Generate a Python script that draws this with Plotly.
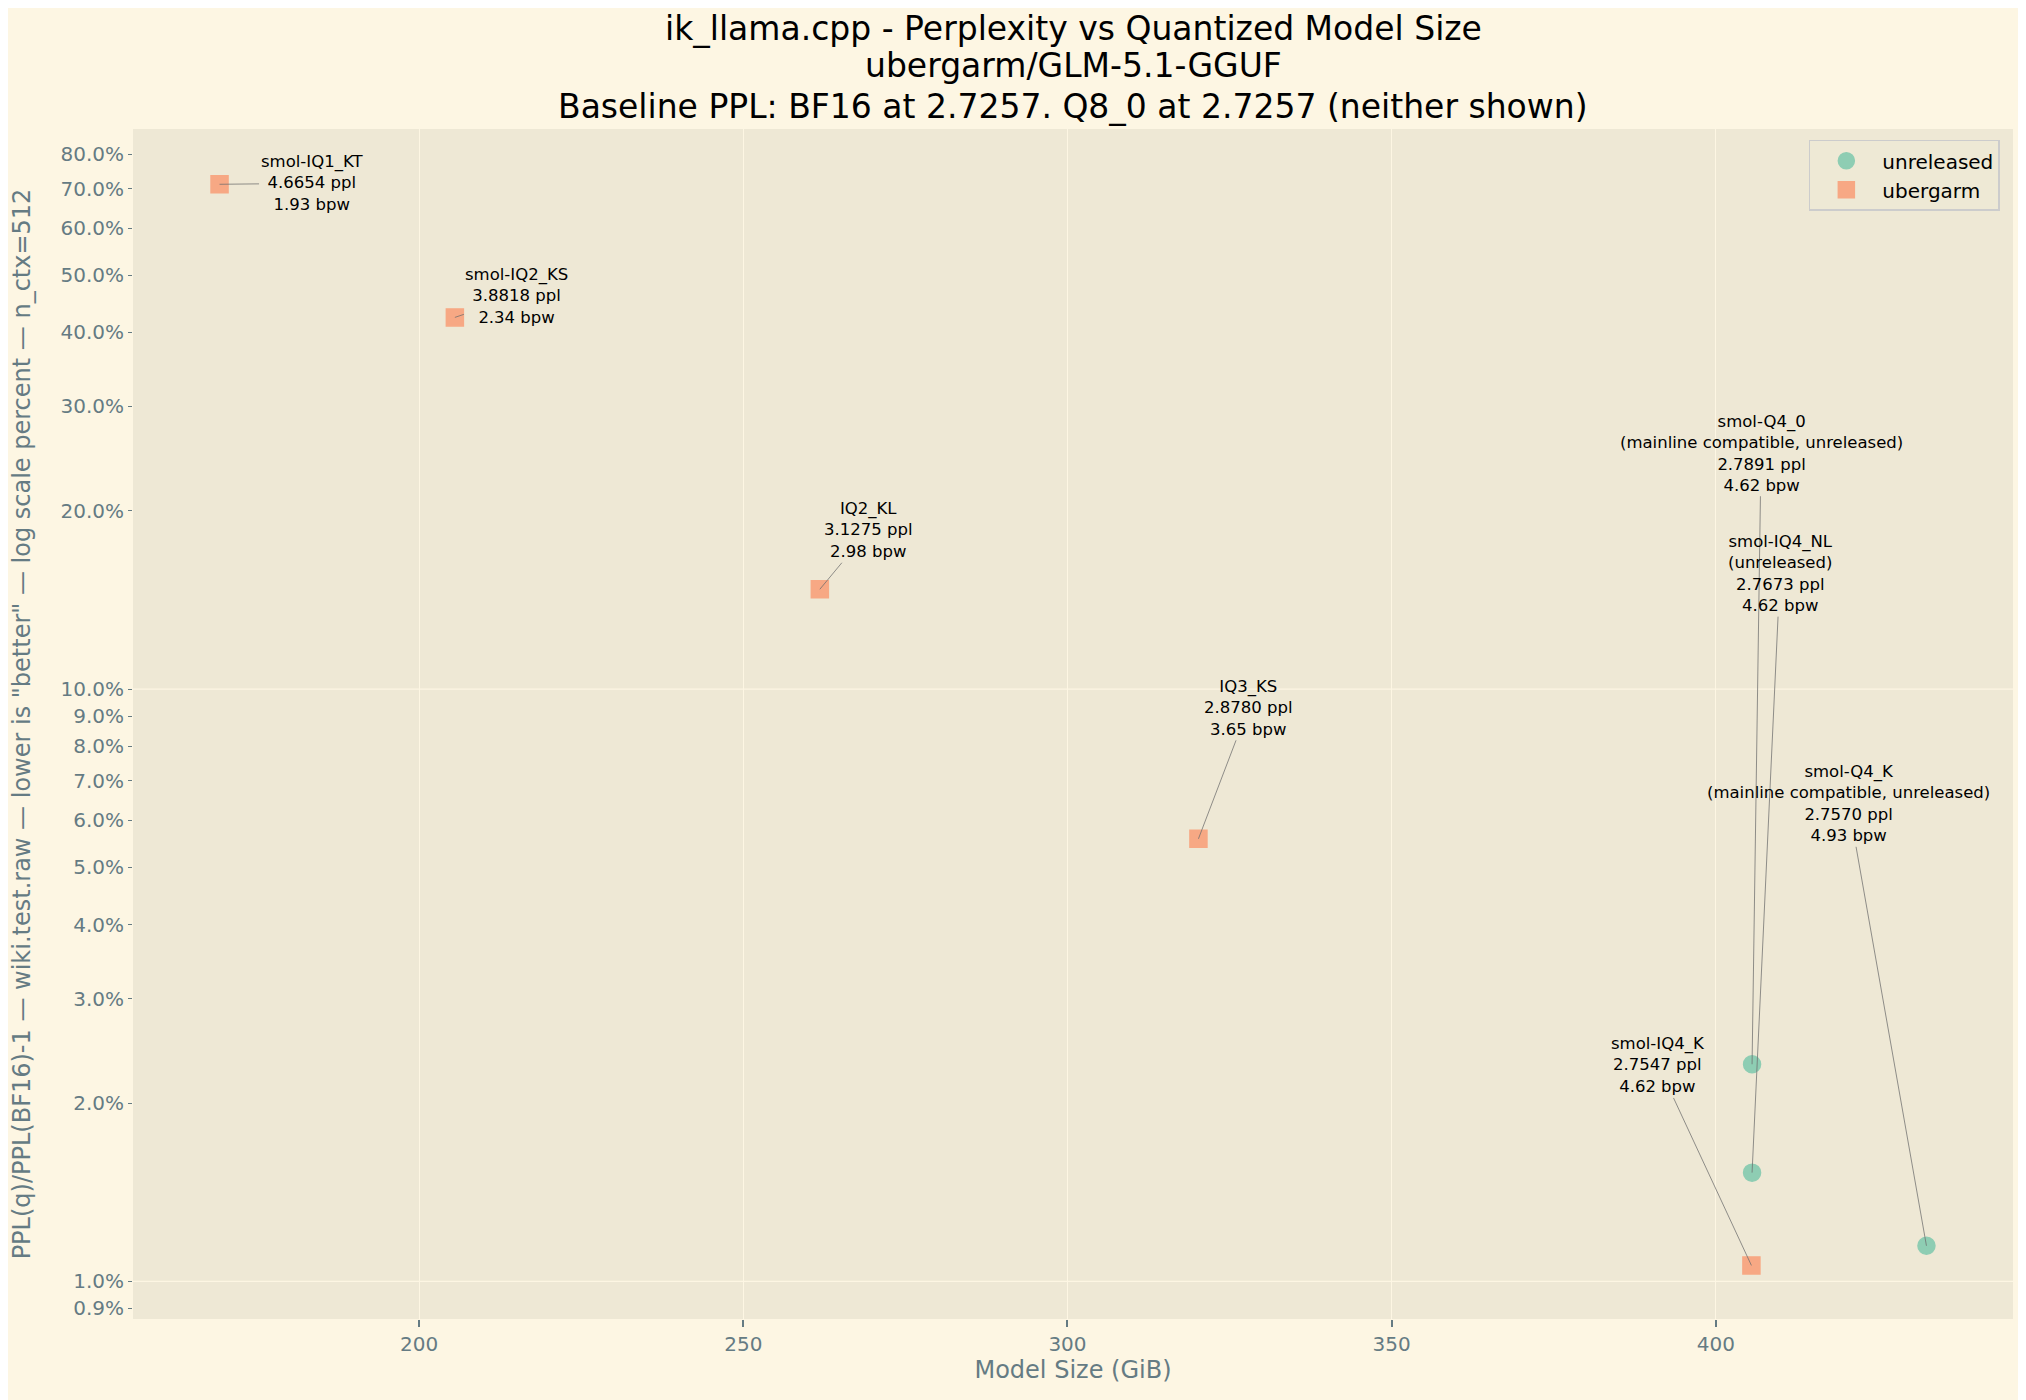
import math
import plotly.graph_objects as go

# baseline BF16 ppl
BASE_PPL = 2.7257

# quants (name, label text, size GiB, ppl, bpw, group)
names = ["smol-IQ1_KT", "smol-IQ2_KS", "IQ2_KL", "IQ3_KS",
         "smol-IQ4_K", "smol-Q4_0", "smol-IQ4_NL", "smol-Q4_K"]
notes = ["", "", "", "", "",
         "(mainline compatible, unreleased)", "(unreleased)",
         "(mainline compatible, unreleased)"]
size_gib = [169.2, 205.5, 261.8, 320.2, 405.5, 405.6, 405.6, 432.5]
ppl = [4.6654, 3.8818, 3.1275, 2.8780, 2.7547, 2.7891, 2.7673, 2.7570]
bpw = [1.93, 2.34, 2.98, 3.65, 4.62, 4.62, 4.62, 4.93]
group = ["ubergarm", "ubergarm", "ubergarm", "ubergarm", "ubergarm",
         "unreleased", "unreleased", "unreleased"]

# label offsets (px) from each point
label_dx = [92, 62, 49, 50, -93, 9, 28, -78]
label_dy = [-1, -21, -59, -131, -200, -611, -599, -442]

y_ticks = [0.9, 1, 2, 3, 4, 5, 6, 7, 8, 9, 10, 20, 30, 40, 50, 60, 70, 80]
y_tick_text = ["%.1f%%" % v for v in y_ticks]
x_ticks = [200, 250, 300, 350, 400]

title_lines = ["ik_llama.cpp - Perplexity vs Quantized Model Size",
               "ubergarm/GLM-5.1-GGUF",
               "Baseline PPL: BF16 at 2.7257. Q8_0 at 2.7257 (neither shown)"]

delta_pct = [(p / BASE_PPL - 1) * 100 for p in ppl]

styles = {
    "unreleased": dict(color="#66c2a5", symbol="circle"),
    "ubergarm": dict(color="#fc8d62", symbol="square"),
}

fig = go.Figure()
for g in ["unreleased", "ubergarm"]:
    idx = [i for i, gg in enumerate(group) if gg == g]
    st = styles[g]
    fig.add_trace(go.Scatter(
        x=[size_gib[i] for i in idx],
        y=[delta_pct[i] for i in idx],
        mode="markers",
        name=g,
        marker=dict(size=17, symbol=st["symbol"], color=st["color"],
                    opacity=0.7, line=dict(color=st["color"], width=1.5)),
    ))

for i in range(len(names)):
    lines = [names[i]]
    if notes[i]:
        lines.append(notes[i])
    lines.append("%.4f ppl" % ppl[i])
    lines.append("%.2f bpw" % bpw[i])
    fig.add_annotation(
        x=size_gib[i], y=math.log10(delta_pct[i]), yref="y", xref="x",
        text="<br>".join(lines),
        showarrow=True, arrowhead=0, arrowwidth=1,
        arrowcolor="rgba(110,110,110,0.75)",
        ax=label_dx[i], ay=label_dy[i], standoff=0,
        font=dict(size=16.5, color="black", family="DejaVu Sans"),
    )

# three-line title over the plot area
for k, (txt, ty) in enumerate(zip(title_lines, [1.0846, 1.0531, 1.0193])):
    fig.add_annotation(
        x=0.5, y=ty, xref="paper", yref="paper", text=txt, showarrow=False,
        xanchor="center", yanchor="middle",
        font=dict(size=33, color="black", family="DejaVu Sans"),
    )

# gridlines only at major decades
for gv in [1, 10]:
    fig.add_shape(type="line", xref="paper", x0=0, x1=1, yref="y", y0=gv, y1=gv,
                  line=dict(color="#fdf6e3", width=1.2), layer="below")

tick_col = "#657b83"
fig.update_layout(
    width=2026, height=1400,
    paper_bgcolor="#fdf6e3", plot_bgcolor="#eee8d5",
    font=dict(family="DejaVu Sans", color=tick_col, size=20),
    margin=dict(l=120, r=21, t=121, b=89),
    xaxis=dict(
        range=[155.85, 445.85], tickvals=x_ticks,
        ticks="outside", ticklen=7, tickcolor=tick_col, tickwidth=1.5,
        showgrid=True, gridcolor="#fdf6e3", gridwidth=1.2,
        zeroline=False, showline=False,
        tickfont=dict(size=20, color=tick_col),
        title=dict(text="Model Size (GiB)", standoff=5,
                   font=dict(size=24, color=tick_col)),
    ),
    yaxis=dict(
        type="log", range=[-0.0635, 1.9456],
        tickvals=y_ticks, ticktext=y_tick_text,
        ticks="outside", ticklen=4, tickcolor=tick_col, tickwidth=1.2,
        showgrid=False, zeroline=False, showline=False,
        tickfont=dict(size=20, color=tick_col),
        title=dict(text='PPL(q)/PPL(BF16)-1 — wiki.test.raw — lower is "better" — log scale percent — n_ctx=512',
                   standoff=24, font=dict(size=24, color=tick_col)),
    ),
    legend=dict(
        x=0.993, y=0.991, xanchor="right", yanchor="top",
        bgcolor="rgba(238,232,213,0.8)", bordercolor="#cccccc", borderwidth=1.5,
        font=dict(size=20, color="black"),
        itemwidth=62,
    ),
    showlegend=True,
)

fig.write_html("out.html")
